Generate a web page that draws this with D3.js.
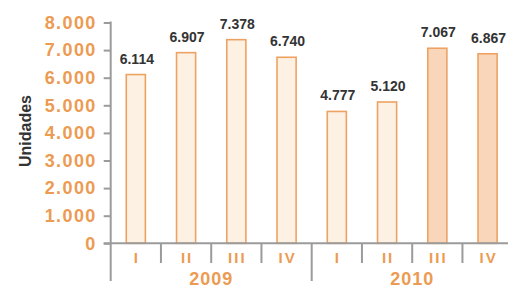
<!DOCTYPE html>
<html>
<head>
<meta charset="utf-8">
<script src="https://cdn.jsdelivr.net/npm/d3@7"></script>
<style>
  body { margin: 0; background: #fff; }
  svg { display: block; }
  text { font-family: "Liberation Sans", Arial, sans-serif; font-weight: bold; }
</style>
</head>
<body>
<div id="chart"></div>
<script>
const width = 508,
  height = 288;

// data
const years = ["2009", "2010"];
const quarters = ["I", "II", "III", "IV"];
const values = [6114, 6907, 7378, 6740, 4777, 5120, 7067, 6867];
const valueLabels = ["6.114", "6.907", "7.378", "6.740", "4.777", "5.120", "7.067", "6.867"];
const highlighted = [false, false, false, false, false, false, true, true];
const yTicks = [0, 1000, 2000, 3000, 4000, 5000, 6000, 7000, 8000];

const orange = "#ec9b52";
const axisGrey = "#9b9b9b";

const svg = d3.select("#chart")
  .append("svg")
  .attr("width", width)
  .attr("height", height);

const cats = d3.range(values.length);

const x = d3.scaleBand()
  .domain(cats)
  .range([110.7, 512.7])
  .paddingInner(0.62)
  .paddingOuter(0.31);

const y = d3.scaleLinear()
  .domain([0, 8000])
  .range([243.3, 22.5]);

// bars
svg.selectAll("rect.bar")
  .data(values)
  .join("rect")
  .attr("class", "bar")
  .attr("x", (d, i) => x(i))
  .attr("y", d => y(d))
  .attr("width", x.bandwidth())
  .attr("height", d => y(0) - y(d))
  .attr("fill", (d, i) => highlighted[i] ? "#f9d6ba" : "#fdf1e4")
  .attr("stroke", "#eea262")
  .attr("stroke-width", 1.6);

// value labels
svg.selectAll("text.val")
  .data(values)
  .join("text")
  .attr("class", "val")
  .attr("x", (d, i) => x(i) + x.bandwidth() / 2 + 1)
  .attr("y", d => y(d) - 11)
  .attr("text-anchor", "middle")
  .attr("fill", "#333")
  .attr("font-size", 14)
  .text((d, i) => valueLabels[i]);

// y axis
const yAxis = svg.append("g")
  .attr("transform", `translate(${x.range()[0]},0)`)
  .call(d3.axisLeft(y).tickValues(yTicks).tickSize(7).tickSizeOuter(0)
    .tickFormat(d => d3.format(",")(d).replace(/,/g, ".")));

yAxis.select(".domain").remove();
yAxis.selectAll(".tick line").attr("stroke", axisGrey).attr("stroke-width", 2);
yAxis.selectAll(".tick text")
  .attr("x", -14)
  .attr("fill", orange)
  .attr("font-size", 18)
  .attr("letter-spacing", 1.4)
  .attr("font-family", null);

svg.append("line")
  .attr("x1", x.range()[0]).attr("x2", x.range()[0])
  .attr("y1", y(8000) - 1).attr("y2", 281)
  .attr("stroke", axisGrey).attr("stroke-width", 2);

// x axis baseline
svg.append("line")
  .attr("x1", x.range()[0] - 7).attr("x2", width)
  .attr("y1", y(0)).attr("y2", y(0))
  .attr("stroke", axisGrey).attr("stroke-width", 2);

// separators between quarters and years
const step = x.step();
svg.selectAll("line.sep")
  .data(d3.range(1, values.length))
  .join("line")
  .attr("class", "sep")
  .attr("x1", i => x.range()[0] + i * step)
  .attr("x2", i => x.range()[0] + i * step)
  .attr("y1", y(0))
  .attr("y2", i => i % quarters.length === 0 ? 281 : 263)
  .attr("stroke", axisGrey)
  .attr("stroke-width", 2);

// quarter labels
svg.selectAll("text.q")
  .data(cats)
  .join("text")
  .attr("class", "q")
  .attr("x", i => x(i) + x.bandwidth() / 2 + 1)
  .attr("y", 263)
  .attr("text-anchor", "middle")
  .attr("fill", orange)
  .attr("font-size", 15)
  .attr("letter-spacing", 2)
  .text(i => quarters[i % quarters.length]);

// year labels
svg.selectAll("text.yr")
  .data(years)
  .join("text")
  .attr("class", "yr")
  .attr("x", (d, j) => x.range()[0] + (j + 0.5) * quarters.length * step)
  .attr("y", 284.5)
  .attr("text-anchor", "middle")
  .attr("fill", orange)
  .attr("font-size", 18)
  .attr("letter-spacing", 1)
  .text(d => d);

// y title
svg.append("text")
  .attr("transform", "translate(31,131) rotate(-90)")
  .attr("text-anchor", "middle")
  .attr("fill", "#333")
  .attr("font-size", 16)
  .text("Unidades");
</script>
</body>
</html>
